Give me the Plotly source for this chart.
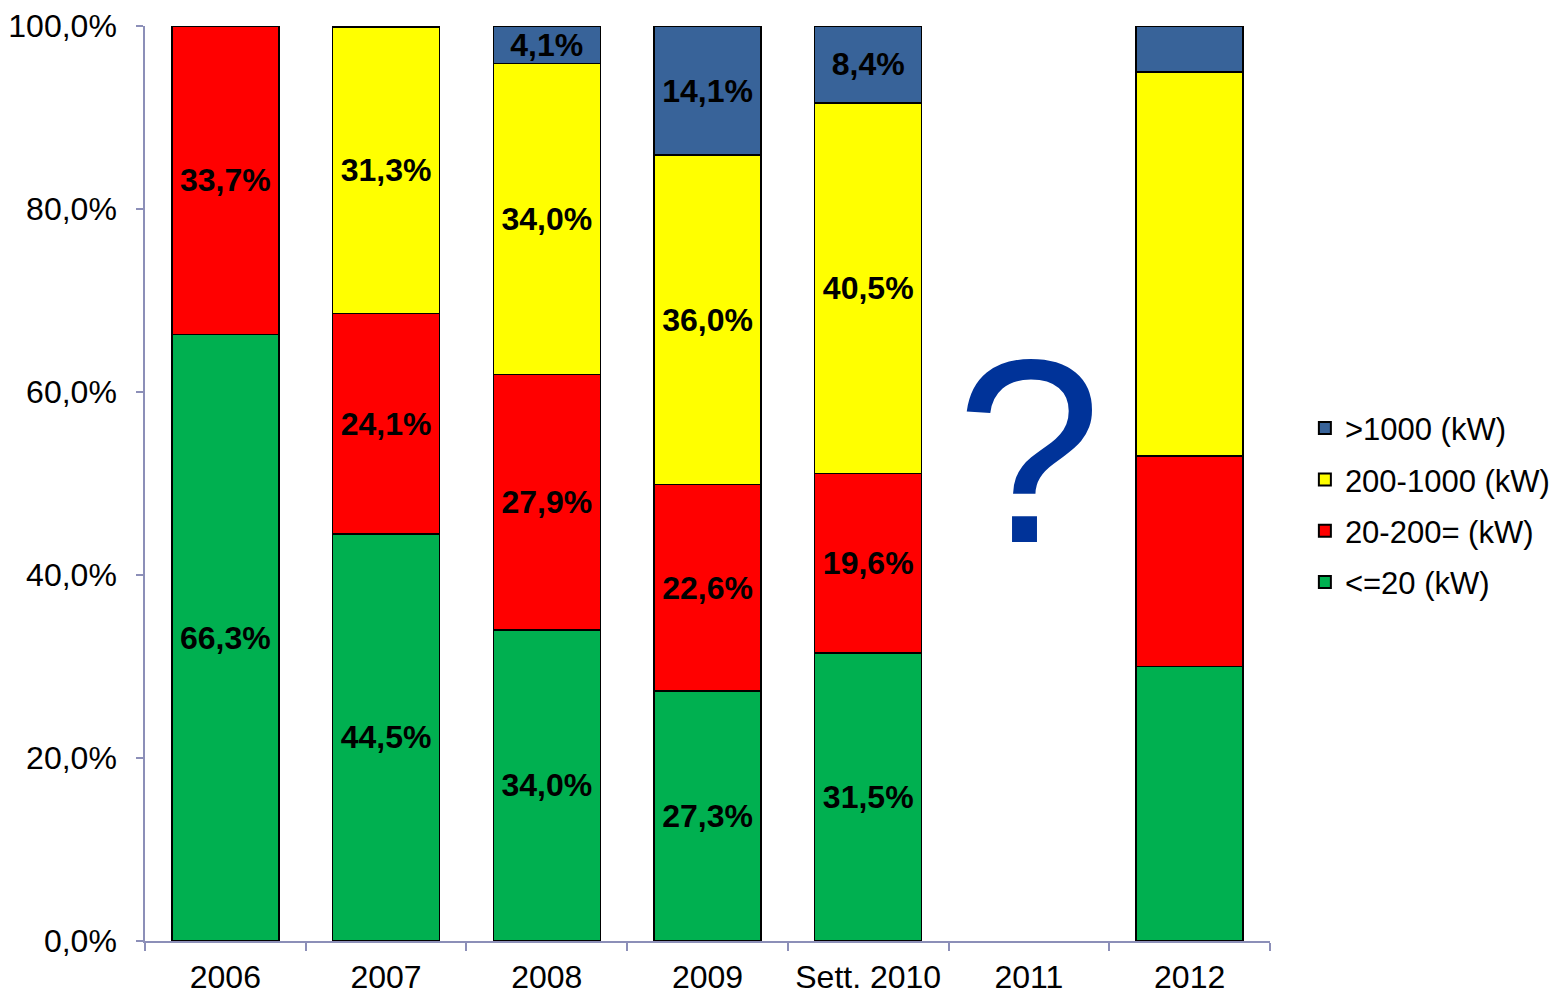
import plotly.graph_objects as go

categories = ["2006", "2007", "2008", "2009", "Sett. 2010", "2011", "2012"]
le20 = [66.3, 44.5, 34.0, 27.3, 31.5, None, 30.0]
s20_200 = [33.7, 24.1, 27.9, 22.6, 19.6, None, 23.0]
s200_1000 = [None, 31.3, 34.0, 36.0, 40.5, None, 42.0]
gt1000 = [None, None, 4.1, 14.1, 8.4, None, 5.0]
labelled = [True, True, True, True, True, False, False]
unknown_year = "2011"

series = [
    ("<=20 (kW)", le20, "#00B050"),
    ("20-200= (kW)", s20_200, "#FF0000"),
    ("200-1000 (kW)", s200_1000, "#FFFF00"),
    (">1000 (kW)", gt1000, "#386399"),
]

FONT = "Liberation Sans, Arial, sans-serif"
FS = 32


def fmt(v, show):
    if v is None or not show:
        return ""
    return f"{v:.1f}".replace(".", ",") + "%"


fig = go.Figure()
n = len(series)
for i, (name, vals, color) in enumerate(series):
    fig.add_trace(go.Bar(
        x=categories, y=vals, name=name, legendgroup=name, legendrank=n - i,
        marker=dict(color=color, line=dict(color="black", width=1.5)),
        text=[fmt(v, s) for v, s in zip(vals, labelled)],
        textposition="inside", insidetextanchor="middle", textangle=0,
        textfont=dict(family=FONT, size=FS, color="black", weight="bold"),
        hoverinfo="skip",
    ))

fig.add_annotation(x=categories.index(unknown_year), y=53.5, text="?", showarrow=False,
                   font=dict(family=FONT, size=262, color="#003399"))

fig.update_layout(
    barmode="stack", bargap=0.334,
    width=1551, height=986,
    margin=dict(l=137, r=289, t=18, b=53, autoexpand=False),
    paper_bgcolor="white", plot_bgcolor="white",
    separators=",.",
    uniformtext=dict(minsize=FS, mode="show"),
    font=dict(family=FONT, size=FS, color="black"),
    legend=dict(x=1.031, y=0.476, xanchor="left", yanchor="middle",
                traceorder="grouped", font=dict(size=31, color="black"),
                itemsizing="constant", tracegroupgap=8),
    showlegend=True,
)
fig.update_xaxes(type="category", automargin=False, range=[-0.5, len(categories) - 0.5],
                 showline=True, linecolor="#8C8FB8", linewidth=1.5,
                 ticks="outside", ticklen=8, tickcolor="#8C8FB8", tickwidth=1.5,
                 tickson="boundaries", showgrid=False, tickangle=0,
                 ticklabelstandoff=7,
                 tickfont=dict(size=FS, color="black"))
fig.update_yaxes(range=[0, 100], dtick=20, tickformat=".1f", ticksuffix="%",
                 automargin=False,
                 showline=True, linecolor="#8C8FB8", linewidth=1.5,
                 ticks="outside", ticklen=7, tickcolor="#8C8FB8", tickwidth=1.5,
                 showgrid=False, zeroline=False, ticklabelstandoff=13,
                 tickfont=dict(size=FS, color="black"))

fig.write_html("out.html")
